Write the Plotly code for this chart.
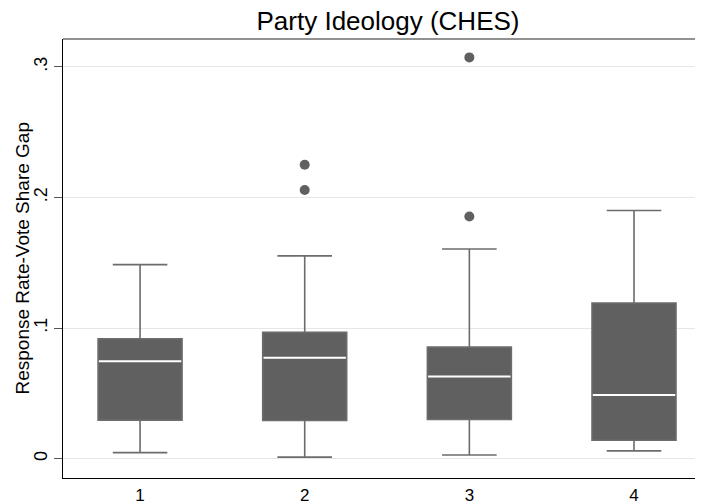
import plotly.graph_objects as go

categories = [1, 2, 3, 4]
category_labels = ["1", "2", "3", "4"]
lower_whisker = [0.0046, 0.0011, 0.0028, 0.0059]
q1 = [0.0295, 0.0292, 0.0300, 0.0141]
median = [0.0746, 0.0772, 0.0628, 0.0488]
q3 = [0.0918, 0.0967, 0.0854, 0.1192]
upper_whisker = [0.1485, 0.1552, 0.1605, 0.1900]
outlier_x = [2, 2, 3, 3]
outlier_y = [0.2250, 0.2057, 0.3072, 0.1854]
y_tick_vals = [0, 0.1, 0.2, 0.3]
y_tick_text = ["0", ".1", ".2", ".3"]

BOX_W = 0.51
FILL = "#606060"
LINE = "#6c6c6c"

# page body has an 8px default margin; the figure is sized to fit the window
W, H = 695, 496
L, T, B = 55, 31, 26

fig = go.Figure()
fig.add_trace(go.Box(
    x=categories, q1=q1, median=median, q3=q3,
    lowerfence=lower_whisker, upperfence=upper_whisker,
    width=BOX_W, whiskerwidth=0.65, boxpoints=False,
    fillcolor=FILL, line=dict(color=LINE, width=1.6),
    showlegend=False, hoverinfo="skip",
))

# white median lines
mx, my = [], []
hw = BOX_W / 2 - 0.005
for c, m in zip(categories, median):
    mx += [c - hw, c + hw, None]
    my += [m, m, None]
fig.add_trace(go.Scatter(x=mx, y=my, mode="lines",
                         line=dict(color="white", width=2),
                         showlegend=False, hoverinfo="skip"))

fig.add_trace(go.Scatter(x=outlier_x, y=outlier_y, mode="markers",
                         marker=dict(color=FILL, size=10, line=dict(width=0)),
                         showlegend=False, hoverinfo="skip"))

fig.update_layout(
    width=W, height=H,
    margin=dict(l=L, r=0, t=T, b=B, pad=0),
    paper_bgcolor="white", plot_bgcolor="white",
    font=dict(family="Liberation Sans, Arial, Helvetica, sans-serif", color="black", size=18),
    title=dict(text="Party Ideology (CHES)", x=380 / W, xanchor="center",
               y=1 - 13 / H, yanchor="middle", font=dict(size=26, color="black")),
    xaxis=dict(range=[0.532, 4.419], tickvals=categories, ticktext=category_labels,
               showgrid=False, zeroline=False, showline=True, linecolor="black",
               linewidth=1.2, ticks="outside", ticklen=1, tickcolor="rgba(0,0,0,0)",
               tickfont=dict(size=17), automargin=False),
    yaxis=dict(range=[-0.01485, 0.3213], tickvals=y_tick_vals, ticktext=y_tick_text,
               tickangle=-90, showgrid=True, gridcolor="#e6e6e6", gridwidth=1,
               zeroline=False, showline=True, linecolor="black", linewidth=1.2,
               ticks="outside", ticklen=8, tickcolor="#555555", tickfont=dict(size=18),
               automargin=False),
    shapes=[dict(type="line", xref="paper", yref="paper", x0=0, x1=1, y0=1, y1=1,
                 line=dict(color="#6c6c6c", width=1.5))],
    annotations=[dict(text="Response Rate-Vote Share Gap", textangle=-90,
                      xref="paper", yref="paper", x=(14 - L) / (W - L), y=0.5,
                      xanchor="center", yanchor="middle", showarrow=False,
                      font=dict(size=19, color="black"))],
)

fig.write_html("out.html")
